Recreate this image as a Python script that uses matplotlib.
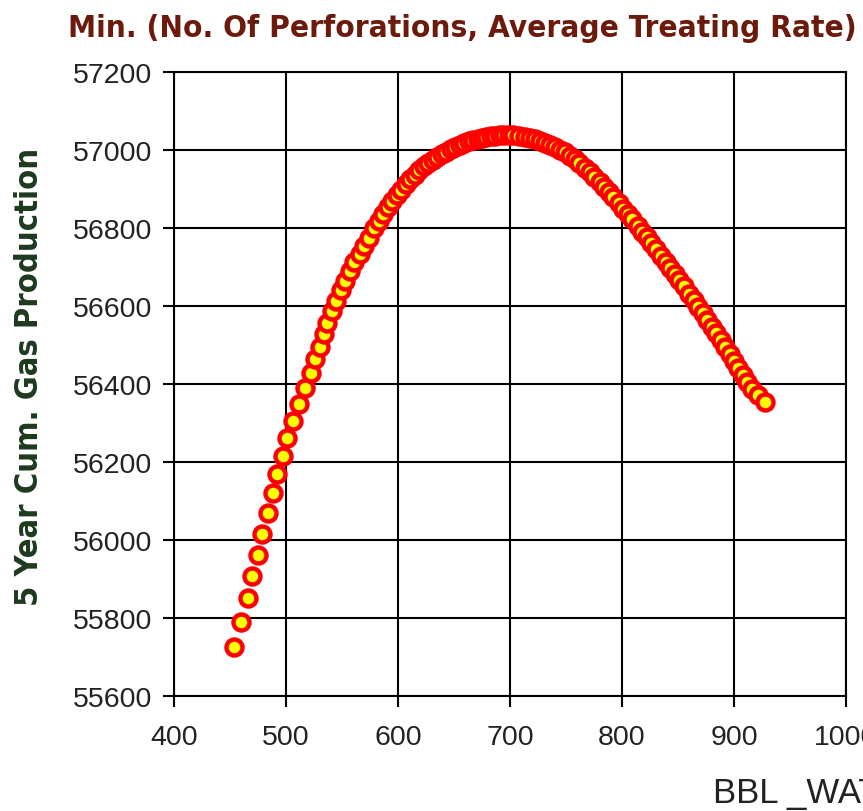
import matplotlib
matplotlib.use('Agg')
import matplotlib.pyplot as plt

# BBL_WATER vs 5 year cumulative gas production
bbl_water = [
    454, 460, 466, 470, 475, 479, 484, 488, 492, 497,
    501, 506, 512, 517, 522, 526, 530, 534, 537, 541,
    545, 549, 553, 557, 561, 566, 570, 574, 579, 583,
    587, 591, 595, 599, 603, 607, 611, 615, 619, 623,
    627, 631, 635, 639, 643, 647, 651, 655, 659, 663,
    667, 671, 675, 679, 683, 687, 691, 695, 699, 703,
    708, 713, 718, 722, 727, 731, 736, 740, 745, 749,
    754, 758, 762, 767, 771, 775, 780, 784, 788, 792,
    797, 801, 805, 809, 814, 818, 822, 826, 830, 835,
    839, 843, 847, 851, 855, 860, 864, 868, 872, 876,
    880, 884, 888, 892, 896, 900, 904, 908, 912, 916,
    921, 928,
]
gas_prod = [
    55726, 55790, 55851, 55907, 55961, 56016, 56070, 56121, 56168, 56215,
    56261, 56305, 56349, 56390, 56428, 56463, 56496, 56527, 56557, 56586,
    56613, 56640, 56665, 56689, 56712, 56734, 56755, 56775, 56800, 56818,
    56836, 56853, 56869, 56884, 56898, 56912, 56925, 56937, 56948, 56958,
    56967, 56975, 56983, 56990, 56996, 57002, 57008, 57013, 57018, 57022,
    57026, 57029, 57032, 57034, 57036, 57037, 57038, 57039, 57039, 57038,
    57036, 57034, 57031, 57028, 57024, 57019, 57014, 57008, 57001, 56994,
    56985, 56976, 56966, 56955, 56944, 56932, 56918, 56905, 56892, 56879,
    56864, 56850, 56836, 56822, 56806, 56791, 56777, 56762, 56747, 56729,
    56714, 56698, 56683, 56667, 56651, 56631, 56615, 56598, 56581, 56564,
    56547, 56530, 56512, 56494, 56476, 56458, 56440, 56422, 56404, 56388,
    56372, 56355,
]

x_ticks = [400, 500, 600, 700, 800, 900, 1000]
y_ticks = [55600, 55800, 56000, 56200, 56400, 56600, 56800, 57000, 57200]

plain = ['Liberation Sans', 'DejaVu Sans']

fig = plt.figure(figsize=(8.63, 8.12), dpi=100)
ax = fig.add_axes([174 / 863, 115 / 812, 672 / 863, 624 / 812])

ax.plot(bbl_water, gas_prod, linestyle='none', marker='o', markersize=11.5,
        markerfacecolor='#ffff00', markeredgecolor='#ff0000',
        markeredgewidth=3.2, zorder=3)

ax.set_xlim(400, 1000)
ax.set_ylim(55600, 57200)
ax.set_xticks(x_ticks)
ax.set_yticks(y_ticks)
ax.grid(True, color='black', linewidth=1.5)
for s in ax.spines.values():
    s.set_color('black')
    s.set_linewidth(1.5)
ax.tick_params(direction='out', length=8, width=1.5, colors='black',
               labelcolor='#222222', labelsize=20.5)
ax.tick_params(axis='y', pad=8)
ax.tick_params(axis='x', pad=12)
for lab in ax.get_xticklabels() + ax.get_yticklabels():
    lab.set_family(plain)

fig.text(68 / 863, 1 - 37 / 812,
         'Min. (No. Of Perforations, Average Treating Rate)',
         family='DejaVu Sans', fontstretch='condensed', fontweight='bold',
         fontsize=22.6, color='#6b1a0c', ha='left', va='baseline')
fig.text(30 / 863, 1 - 377 / 812, '5 Year Cum. Gas Production',
         family='DejaVu Sans', fontstretch='condensed', fontweight='bold',
         fontsize=23.4, color='#1e3a1e', rotation=90, ha='center', va='center')
fig.text(713 / 863, 1 - 803 / 812, 'BBL _WATER',
         family=plain, fontsize=25, color='#222222',
         ha='left', va='baseline')

plt.savefig('out.png', dpi=100)
